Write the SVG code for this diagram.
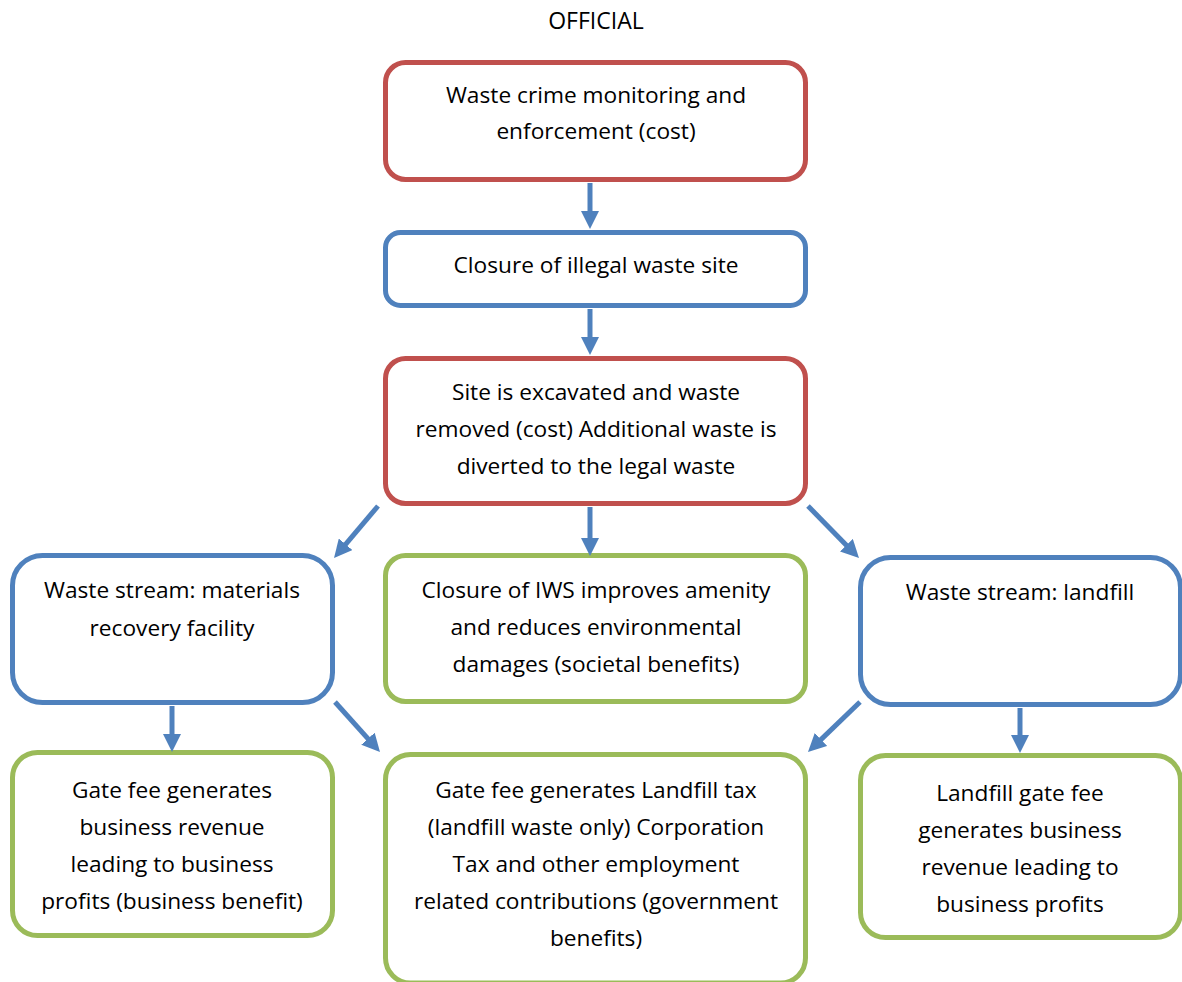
<svg xmlns="http://www.w3.org/2000/svg" width="1182" height="982" viewBox="0 0 1182 982">
<style>
.box{fill:#fff;stroke-width:5}
.r{stroke:#C0504D}.b{stroke:#4F81BD}.g{stroke:#9BBB59}
text{font-family:"Open Sans","Noto Sans","DejaVu Sans",sans-serif;font-size:22.7px;fill:#000;text-anchor:middle}
.conn line{stroke:#4F81BD;stroke-width:5;marker-end:url(#ah)}
</style>
<defs>
<marker id="ah" markerUnits="userSpaceOnUse" markerWidth="18" markerHeight="18" viewBox="0 0 18 18" refX="8" refY="9" orient="auto">
<path d="M0,0 L18,9 L0,18 z" fill="#4F81BD"/>
</marker>
</defs>
<rect width="1182" height="982" fill="#fff"/>
<text x="596" y="29" style="font-size:23px">OFFICIAL</text>
<g id="n1"><rect class="box r" x="385.5" y="62.5" width="420" height="117" rx="20"/>
<text x="596" y="103">Waste crime monitoring and</text><text x="596" y="139">enforcement (cost)</text></g>
<g id="n2"><rect class="box b" x="385.5" y="232.5" width="420" height="73" rx="15"/>
<text x="596" y="273">Closure of illegal waste site</text></g>
<g id="n3"><rect class="box r" x="385.5" y="358.5" width="420" height="145" rx="20"/>
<text x="596" y="400">Site is excavated and waste</text><text x="596" y="437">removed (cost) Additional waste is</text><text x="596" y="474">diverted to the legal waste</text></g>
<g id="n4"><rect class="box b" x="12.5" y="555.5" width="320" height="147" rx="30"/>
<text x="172" y="598">Waste stream: materials</text><text x="172" y="636">recovery facility</text></g>
<g id="n5"><rect class="box g" x="385.5" y="555.5" width="420" height="146" rx="20"/>
<text x="596" y="598">Closure of IWS improves amenity</text><text x="596" y="635">and reduces environmental</text><text x="596" y="672">damages (societal benefits)</text></g>
<g id="n6"><rect class="box b" x="860.5" y="557.5" width="320" height="147" rx="30"/>
<text x="1020" y="600">Waste stream: landfill</text></g>
<g id="n7"><rect class="box g" x="12.5" y="752.5" width="320" height="183" rx="25"/>
<text x="172" y="798">Gate fee generates</text><text x="172" y="835">business revenue</text><text x="172" y="872">leading to business</text><text x="172" y="909">profits (business benefit)</text></g>
<g id="n8"><rect class="box g" x="385.5" y="754.5" width="420" height="228.5" rx="25"/>
<text x="596" y="798">Gate fee generates Landfill tax</text><text x="596" y="835">(landfill waste only) Corporation</text><text x="596" y="872">Tax and other employment</text><text x="596" y="909">related contributions (government</text><text x="596" y="946">benefits)</text></g>
<g id="n9"><rect class="box g" x="860.5" y="755.5" width="320" height="182" rx="25"/>
<text x="1020" y="801">Landfill gate fee</text><text x="1020" y="838">generates business</text><text x="1020" y="875">revenue leading to</text><text x="1020" y="912">business profits</text></g>
<g class="conn" id="connectors">
<line x1="590" y1="183" x2="590" y2="219"/>
<line x1="590" y1="309" x2="590" y2="345"/>
<line x1="590" y1="507" x2="590" y2="546"/>
<line x1="378" y1="506" x2="340.5" y2="550.4"/>
<line x1="808" y1="506" x2="852" y2="550.9"/>
<line x1="172" y1="706" x2="172" y2="742"/>
<line x1="335" y1="702" x2="373.3" y2="744.6"/>
<line x1="860" y1="702" x2="815.2" y2="745.1"/>
<line x1="1020" y1="708" x2="1020" y2="743"/>
</g>
</svg>
